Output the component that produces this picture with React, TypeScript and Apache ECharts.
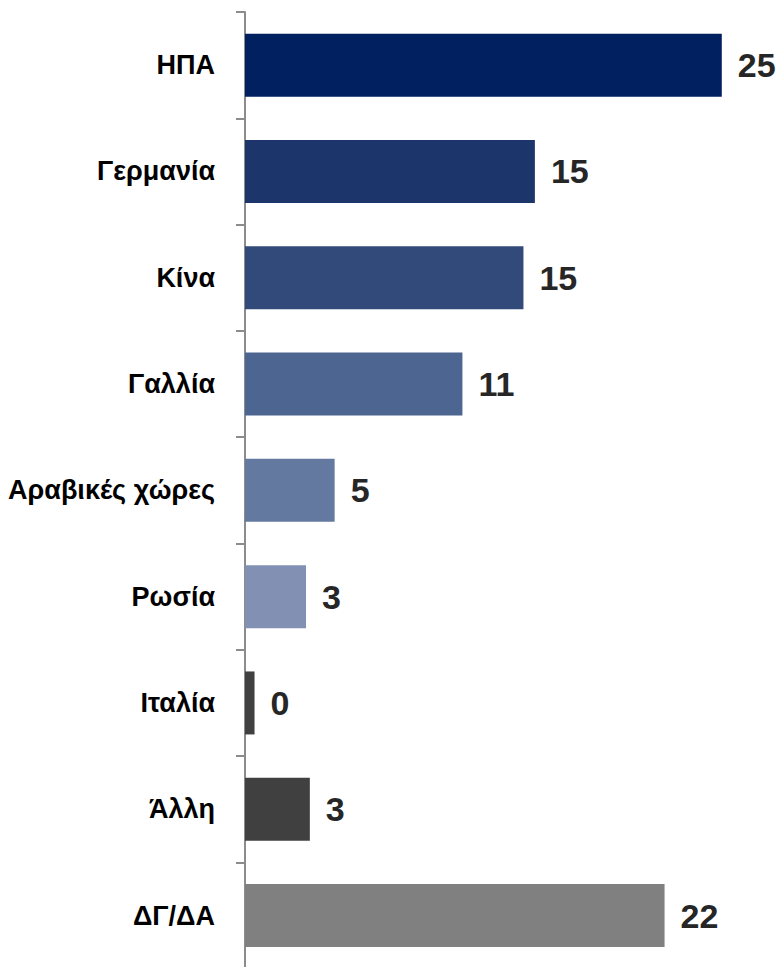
import React, { useEffect, useRef } from "react";
import * as echarts from "echarts";

const categories = ["ΗΠΑ", "Γερμανία", "Κίνα", "Γαλλία", "Αραβικές χώρες", "Ρωσία", "Ιταλία", "Άλλη", "ΔΓ/ΔΑ"];
const values = [25, 15.2, 14.6, 11.4, 4.7, 3.2, 0.5, 3.4, 22];
const valueLabels = ["25", "15", "15", "11", "5", "3", "0", "3", "22"];
const barColors = ["#002060", "#1c366c", "#314a7a", "#4d6591", "#63799f", "#8291b3", "#404040", "#404040", "#808080"];

const FONT = "'Liberation Sans', Arial, sans-serif";

export default function App() {
  const ref = useRef<HTMLDivElement>(null);
  useEffect(() => {
    if (!ref.current) return;
    const chart = echarts.init(ref.current, null, { renderer: "svg" });
    chart.setOption({
      animation: false,
      backgroundColor: "#ffffff",
      grid: { left: 245, top: 12, width: 534, height: 956.7, containLabel: false, outerBoundsMode: "none" },
      xAxis: {
        type: "value",
        min: 0,
        max: 28,
        show: false,
      },
      yAxis: {
        type: "category",
        inverse: true,
        data: categories,
        axisLine: { show: true, lineStyle: { color: "#8c8c8c", width: 2 } },
        axisTick: { show: true, length: 9, lineStyle: { color: "#8c8c8c", width: 2 } },
        axisLabel: {
          margin: 30,
          color: "#000000",
          fontFamily: FONT,
          fontWeight: "bold",
          fontSize: 27,
        },
        splitLine: { show: false },
      },
      series: [
        {
          type: "bar",
          barWidth: 63,
          data: values.map((v, i) => ({
            value: v,
            itemStyle: { color: barColors[i] },
            label: { formatter: valueLabels[i] },
          })),
          label: {
            show: true,
            position: "right",
            distance: 16,
            color: "#262626",
            fontFamily: FONT,
            fontWeight: "bold",
            fontSize: 34,
          },
        },
      ],
    });
    return () => chart.dispose();
  }, []);
  return <div ref={ref} style={{ width: 779, height: 967, position: "absolute", left: 0, top: 0 }} />;
}
